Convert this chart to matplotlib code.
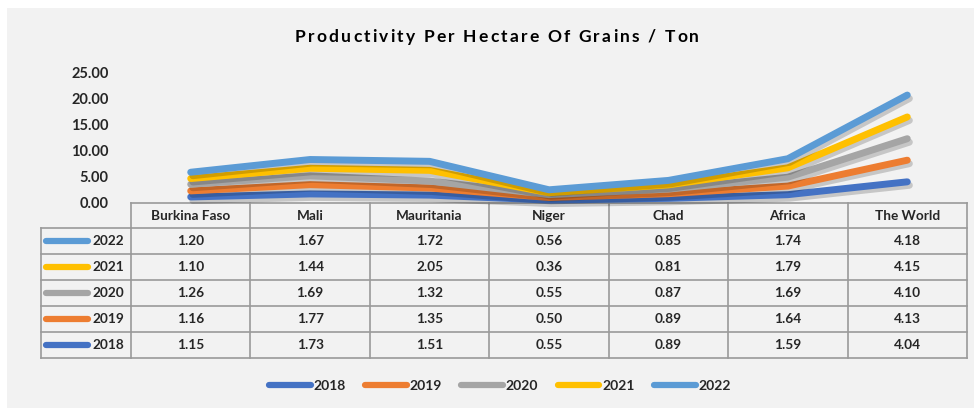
import matplotlib
matplotlib.use('Agg')
import matplotlib.pyplot as plt
import matplotlib.transforms as mtransforms
import matplotlib.patheffects as pe
from matplotlib.lines import Line2D
from matplotlib.patches import Rectangle
import numpy as np

# ---------------- data ----------------
categories = ["Burkina Faso", "Mali", "Mauritania", "Niger", "Chad", "Africa", "The World"]
years = ["2018", "2019", "2020", "2021", "2022"]
v2018 = [1.15, 1.73, 1.51, 0.55, 0.89, 1.59, 4.04]
v2019 = [1.16, 1.77, 1.35, 0.50, 0.89, 1.64, 4.13]
v2020 = [1.26, 1.69, 1.32, 0.55, 0.87, 1.69, 4.10]
v2021 = [1.10, 1.44, 2.05, 0.36, 0.81, 1.79, 4.15]
v2022 = [1.20, 1.67, 1.72, 0.56, 0.85, 1.74, 4.18]
yticks = [0, 5, 10, 15, 20, 25]
title = "Productivity Per Hectare Of Grains / Ton"

colors = ["#4472C4", "#ED7D31", "#A5A5A5", "#FFC000", "#5B9BD5"]
series = [v2018, v2019, v2020, v2021, v2022]

FONT = ['Lato', 'DejaVu Sans']
plt.rcParams['font.family'] = FONT
TXT = '#262626'

W, H = 974, 408
fig = plt.figure(figsize=(W / 100, H / 100), dpi=100)
fig.patch.set_facecolor('white')
fig.add_artist(Rectangle((7 / W, 0), 1 - 7 / W, 1 - 8 / H, transform=fig.transFigure,
                         facecolor='#F2F2F2', edgecolor='none', zorder=0))

# pixel transform (x from left, y from top)
pxT = mtransforms.Affine2D().scale(1 / W, -1 / H).translate(0, 1) + fig.transFigure

ax = fig.add_axes([131 / W, (H - 203) / H, 836 / W, 131 / H])
ax.set_facecolor('none')
for s in ax.spines.values():
    s.set_visible(False)
ax.set_xlim(-0.5, len(categories) - 0.5)
ax.set_ylim(0, 25)
ax.set_xticks([])
ax.set_yticks(yticks)
ax.set_yticklabels([f"{t:.2f}" for t in yticks], fontsize=10.5, fontweight='bold', color=TXT)
ax.tick_params(axis='y', length=0, pad=16)

x = np.arange(len(categories))
cum = np.cumsum(np.array(series), axis=0)
for i in range(len(series)):
    ax.plot(x, cum[i], color=colors[i], lw=5, solid_capstyle='round', solid_joinstyle='round',
            clip_on=False, zorder=3 + i,
            path_effects=[pe.SimpleLineShadow(offset=(1.5, -2.5), shadow_color='black', alpha=0.18),
                          pe.Normal()])

# ---------------- data table ----------------
blend = mtransforms.blended_transform_factory(ax.transData, pxT)
edges = [203, 228, 254, 280, 306, 332, 358]
gc = '#9A9A9A'
glw = 1.2
left_px = 41
xl, xr = -0.5, len(categories) - 0.5

ax.add_line(Line2D([xl, xr], [edges[0], edges[0]], transform=blend, color=gc, lw=glw, clip_on=False))
for e in edges[1:]:
    fig.add_artist(Line2D([left_px, 131], [e, e], transform=pxT, color=gc, lw=glw))
    ax.add_line(Line2D([xl, xr], [e, e], transform=blend, color=gc, lw=glw, clip_on=False))
fig.add_artist(Line2D([left_px, left_px], [edges[1], edges[-1]], transform=pxT, color=gc, lw=glw))
for k in range(len(categories) + 1):
    xv = k - 0.5
    ax.add_line(Line2D([xv, xv], [edges[0], edges[-1]], transform=blend, color=gc, lw=glw, clip_on=False))

for j, c in enumerate(categories):
    ax.text(j, (edges[0] + edges[1]) / 2, c, transform=blend, ha='center', va='center',
            fontsize=9.8, fontweight='bold', color=TXT)

for r in range(len(years)):
    idx = len(years) - 1 - r
    yc = (edges[r + 1] + edges[r + 2]) / 2
    fig.add_artist(Line2D([46, 88], [yc, yc], transform=pxT, color=colors[idx], lw=4.5,
                          solid_capstyle='round'))
    fig.text(124, yc, years[idx], transform=pxT, ha='right', va='center',
             fontsize=9.8, fontweight='bold', color=TXT)
    for j in range(len(categories)):
        ax.text(j, yc, f"{series[idx][j]:.2f}", transform=blend, ha='center', va='center',
                fontsize=9.8, fontweight='bold', color=TXT)

# ---------------- legend ----------------
handles = [Line2D([], [], color=colors[i], lw=4.5, solid_capstyle='round') for i in range(len(years))]
fig.legend(handles, years, loc='center', bbox_to_anchor=(500 / W, 1 - 386 / H), ncol=5, frameon=False,
           handlelength=3.0, columnspacing=1.4, handletextpad=0.2,
           prop={'weight': 'bold', 'size': 10, 'family': FONT}, labelcolor=TXT)

# ---------------- title with letter spacing ----------------
fig.canvas.draw()
renderer = fig.canvas.get_renderer()
tkw = dict(fontsize=12.5, fontweight='bold', color='black', family=FONT)


def width_of(s):
    t = fig.text(0, 0, s + 'I', **tkw)
    w1 = t.get_window_extent(renderer).width
    t.remove()
    t = fig.text(0, 0, 'I', **tkw)
    w2 = t.get_window_extent(renderer).width
    t.remove()
    return w1 - w2


spacing = 2.2
total = width_of(title) + spacing * (len(title) - 1)
cx, cy = 497, 37
x0 = cx - total / 2
for i, ch in enumerate(title):
    if ch == ' ':
        continue
    xpos = x0 + width_of(title[:i]) + spacing * i
    fig.text(xpos, cy, ch, transform=pxT, ha='left', va='center', **tkw)

fig.savefig('out.png', dpi=100, facecolor=fig.get_facecolor())
